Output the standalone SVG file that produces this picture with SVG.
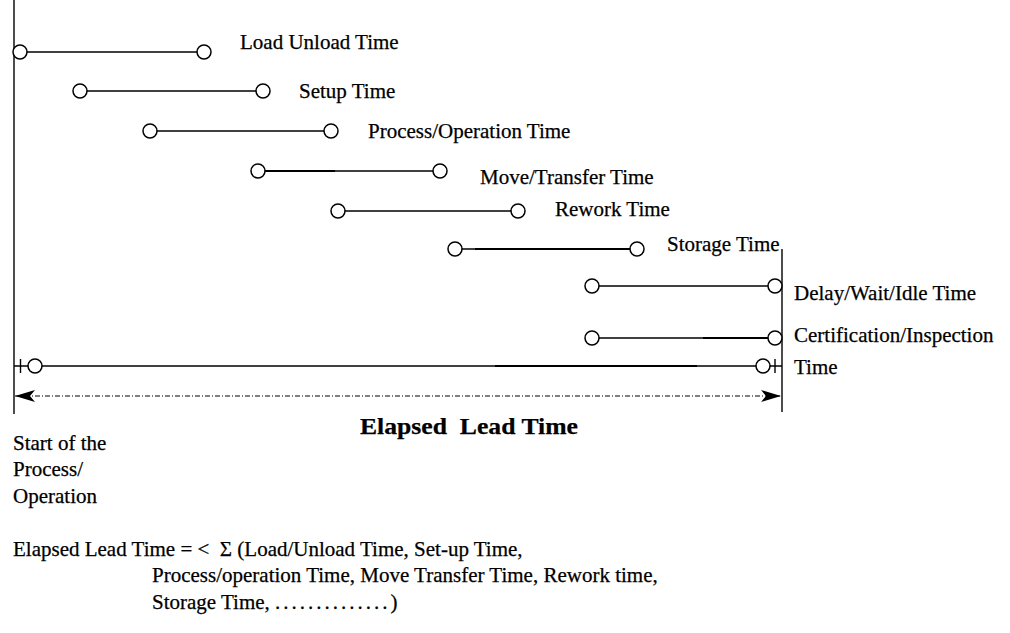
<svg xmlns="http://www.w3.org/2000/svg" width="1010" height="633" viewBox="0 0 1010 633">
<style>
text{font-family:"Liberation Serif","Times New Roman",serif;font-size:21px;fill:#000;stroke:#000;stroke-width:0.25}
.t{dominant-baseline:central}
.b{font-weight:bold;font-size:24px}
.ln{stroke:#000;stroke-width:1.4;fill:none}
.thk{stroke:#000;stroke-width:2.1;fill:none}
.c{stroke:#000;stroke-width:1.5;fill:#fff}
.dot{stroke:#000;stroke-width:1;stroke-dasharray:5 2 1 2;fill:none}
</style>
<defs>
<marker id="ah" viewBox="0 0 20 12" refX="20" refY="6" markerWidth="20" markerHeight="12" markerUnits="userSpaceOnUse" orient="auto-start-reverse">
<path d="M0,0 L20,6 L0,12 L5,6 Z" fill="#000"/>
</marker>
</defs>
<rect width="1010" height="633" fill="#fff"/>
<g id="axes">
<line class="ln" x1="14" y1="0" x2="14" y2="414" stroke-width="1.8"/>
<line class="ln" x1="782" y1="249" x2="782" y2="412" stroke-width="1.8"/>
</g>
<g id="connectors">
<line class="ln" x1="20" y1="52" x2="204" y2="52"/>
<line class="ln" x1="80" y1="91" x2="263" y2="91"/>
<line class="ln" x1="150" y1="131" x2="331" y2="131"/>
<line class="ln" x1="258" y1="171" x2="440" y2="171"/>
<line class="thk" x1="262" y1="171" x2="335" y2="171"/>
<line class="ln" x1="338" y1="211" x2="518" y2="211"/>
<line class="ln" x1="455" y1="249" x2="637" y2="249"/>
<line class="thk" x1="475" y1="249" x2="632" y2="249"/>
<line class="ln" x1="592" y1="286" x2="775" y2="286"/>
<line class="ln" x1="592" y1="338" x2="775" y2="338"/>
<line class="thk" x1="703" y1="338" x2="770" y2="338"/>
<line class="ln" x1="14" y1="366" x2="782" y2="366"/>
<line class="thk" x1="495" y1="366" x2="697" y2="366"/>
<line class="ln" x1="20.5" y1="359" x2="20.5" y2="373" stroke-width="1.8"/>
<line class="ln" x1="775" y1="359" x2="775" y2="373" stroke-width="1.8"/>
<line class="dot" x1="15" y1="396" x2="781" y2="396" marker-start="url(#ah)" marker-end="url(#ah)"/>
</g>
<g id="row1"><circle class="c" cx="20" cy="52" r="7"/><circle class="c" cx="204" cy="52" r="7"/><text class="t" x="240" y="42">Load Unload Time</text></g>
<g id="row2"><circle class="c" cx="80" cy="91" r="7"/><circle class="c" cx="263" cy="91" r="7"/><text class="t" x="299" y="91">Setup Time</text></g>
<g id="row3"><circle class="c" cx="150" cy="131" r="7"/><circle class="c" cx="331" cy="131" r="7"/><text class="t" x="368" y="131">Process/Operation Time</text></g>
<g id="row4"><circle class="c" cx="258" cy="171" r="7"/><circle class="c" cx="440" cy="171" r="7"/><text class="t" x="480" y="177">Move/Transfer Time</text></g>
<g id="row5"><circle class="c" cx="338" cy="211" r="7"/><circle class="c" cx="518" cy="211" r="7"/><text class="t" x="555" y="209">Rework Time</text></g>
<g id="row6"><circle class="c" cx="455" cy="249" r="7"/><circle class="c" cx="637" cy="249" r="7"/><text class="t" x="667" y="244">Storage Time</text></g>
<g id="row7"><circle class="c" cx="592" cy="286" r="7"/><circle class="c" cx="775" cy="286" r="7"/><text class="t" x="794" y="293">Delay/Wait/Idle Time</text></g>
<g id="row8"><circle class="c" cx="592" cy="338" r="7"/><circle class="c" cx="775" cy="338" r="7"/><text class="t" x="794" y="335">Certification/Inspection</text></g>
<g id="row9"><circle class="c" cx="35" cy="366" r="7"/><circle class="c" cx="763" cy="366" r="7"/><text class="t" x="794" y="367">Time</text></g>
<g id="title"><text class="t b" x="360" y="426" textLength="218" lengthAdjust="spacingAndGlyphs" xml:space="preserve">Elapsed  Lead Time</text></g>
<g id="start"><text class="t" x="13" y="443">Start of the</text><text class="t" x="13" y="469">Process/</text><text class="t" x="13" y="496">Operation</text></g>
<g id="formula">
<text class="t" x="13" y="549" xml:space="preserve">Elapsed Lead Time = &lt;  Σ (Load/Unload Time, Set-up Time,</text>
<text class="t" x="152" y="575">Process/operation Time, Move Transfer Time, Rework time,</text>
<text class="t" x="152" y="602">Storage Time, <tspan letter-spacing="3">..............</tspan>)</text>
</g>
</svg>
